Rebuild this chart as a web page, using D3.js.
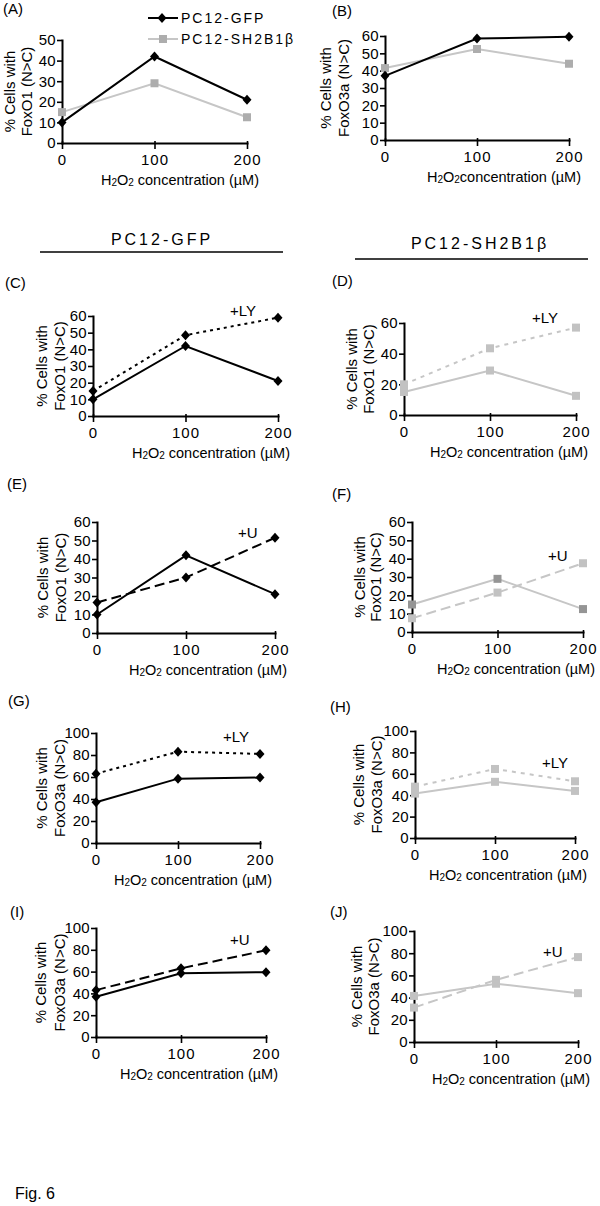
<!DOCTYPE html>
<html>
<head>
<meta charset="utf-8">
<script src="https://cdn.jsdelivr.net/npm/d3@7"></script>
<style>
body { margin: 0; background: #fff; }
text { font-family: "Liberation Sans", Arial, sans-serif; fill: #000; }
</style>
</head>
<body>
<svg width="600" height="1206"></svg>
<script>
// H2O2 doses (uM) on every x axis
const doses = [0, 100, 200];

// % cells with nuclear > cytoplasmic FoxO
const gfpFoxO1 = [10, 42, 21];
const shFoxO1 = [15, 29, 12.5];
const gfpFoxO3a = [37, 58.5, 59.5];
const shFoxO3a = [41.5, 52.5, 44];
const gfpFoxO1LY = [15, 48.5, 59];
const shFoxO1LY = [20, 43.5, 57];
const gfpFoxO1U = [16.5, 30, 51.5];
const shFoxO1U = [7.5, 21.5, 37.5];
const gfpFoxO3aLY = [63, 83, 81];
const shFoxO3aLY = [48, 64.5, 53];
const gfpFoxO3aU = [43, 63, 79.5];
const shFoxO3aU = [31, 56, 76.5];

// y tick labels
const ticks50 = [0, 10, 20, 30, 40, 50];
const ticks60 = [0, 10, 20, 30, 40, 50, 60];
const ticks60by20 = [0, 20, 40, 60];
const ticks100 = [0, 20, 40, 60, 80, 100];

const svg = d3.select('svg');

const grey = '#c6c6c6';
const greyMark = '#adadad';
const lightMark = '#c2c2c2';

const dotted = '3,4';
const dashed = '10,5';

const panels = [
  { name: '(A)', lab: [3, 14], x0: 62, x1: 247, yTop: 40, yBot: 143, yMax: 50, ticks: ticks50,
    ylab: 'FoxO1 (N>C)', yl: [-52, -35],
    series: [
      { v: shFoxO1, color: grey, fill: greyMark, mark: 'square' },
      { v: gfpFoxO1, color: '#000', fill: '#000', mark: 'diamond' }
    ] },
  { name: '(B)', lab: [332, 16], x0: 385, x1: 569, yTop: 36, yBot: 140, yMax: 60, ticks: ticks60,
    ylab: 'FoxO3a (N>C)', yl: [-59, -41], nospace: true,
    series: [
      { v: shFoxO3a, color: grey, fill: greyMark, mark: 'square' },
      { v: gfpFoxO3a, color: '#000', fill: '#000', mark: 'diamond' }
    ] },
  { name: '(C)', lab: [5, 288], x0: 93, x1: 278, yTop: 316, yBot: 416, yMax: 60, ticks: ticks60,
    ylab: 'FoxO1 (N>C)', yl: [-51, -33], note: ['+LY', 230, 316],
    series: [
      { v: gfpFoxO1LY, color: '#000', fill: '#000', mark: 'diamond', dash: dotted },
      { v: gfpFoxO1, color: '#000', fill: '#000', mark: 'diamond' }
    ] },
  { name: '(D)', lab: [332, 286], x0: 404, x1: 576, yTop: 323, yBot: 415, yMax: 60, ticks: ticks60by20,
    ylab: 'FoxO1 (N>C)', yl: [-52, -35], note: ['+LY', 532, 323],
    series: [
      { v: shFoxO1LY, color: grey, fill: lightMark, mark: 'square', dash: '4,5' },
      { v: shFoxO1, color: grey, fill: lightMark, mark: 'square' }
    ] },
  { name: '(E)', lab: [7, 489], x0: 97, x1: 275, yTop: 522, yBot: 633, yMax: 60, ticks: ticks60,
    ylab: 'FoxO1 (N>C)', yl: [-54, -36], note: ['+U', 238, 538],
    series: [
      { v: gfpFoxO1U, color: '#000', fill: '#000', mark: 'diamond', dash: dashed },
      { v: gfpFoxO1, color: '#000', fill: '#000', mark: 'diamond' }
    ] },
  { name: '(F)', lab: [332, 499], x0: 412, x1: 583, yTop: 522, yBot: 632, yMax: 60, ticks: ticks60,
    ylab: 'FoxO1 (N>C)', yl: [-52, -36], note: ['+U', 548, 561],
    series: [
      { v: shFoxO1U, color: grey, fill: lightMark, mark: 'square', dash: dashed },
      { v: shFoxO1, color: grey, fill: '#959595', mark: 'square' }
    ] },
  { name: '(G)', lab: [8, 706], x0: 96, x1: 260, yTop: 733, yBot: 843, yMax: 100, ticks: ticks100,
    ylab: 'FoxO3a (N>C)', yl: [-54, -36], note: ['+LY', 223, 742],
    series: [
      { v: gfpFoxO3aLY, color: '#000', fill: '#000', mark: 'diamond', dash: dotted },
      { v: gfpFoxO3a, color: '#000', fill: '#000', mark: 'diamond' }
    ] },
  { name: '(H)', lab: [330, 712], x0: 415, x1: 575, yTop: 731, yBot: 838, yMax: 100, ticks: ticks100,
    ylab: 'FoxO3a (N>C)', yl: [-56, -38], note: ['+LY', 542, 768],
    series: [
      { v: shFoxO3aLY, color: grey, fill: lightMark, mark: 'square', dash: '4,5' },
      { v: shFoxO3a, color: grey, fill: lightMark, mark: 'square' }
    ] },
  { name: '(I)', lab: [10, 917], x0: 96, x1: 266, yTop: 928, yBot: 1037, yMax: 100, ticks: ticks100,
    ylab: 'FoxO3a (N>C)', yl: [-55, -36], note: ['+U', 230, 945],
    series: [
      { v: gfpFoxO3aU, color: '#000', fill: '#000', mark: 'diamond', dash: dashed },
      { v: gfpFoxO3a, color: '#000', fill: '#000', mark: 'diamond' }
    ] },
  { name: '(J)', lab: [330, 917], x0: 414, x1: 578, yTop: 931, yBot: 1042, yMax: 100, ticks: ticks100,
    ylab: 'FoxO3a (N>C)', yl: [-57, -40], note: ['+U', 543, 957],
    series: [
      { v: shFoxO3aU, color: grey, fill: lightMark, mark: 'square', dash: dashed },
      { v: shFoxO3a, color: grey, fill: lightMark, mark: 'square' }
    ] }
];

const diamond = 'M0,-5L4.5,0L0,5L-4.5,0Z';

function drawMarks(g, data, s, x, y) {
  if (s.mark === 'diamond') {
    g.selectAll(null).data(data).join('path')
      .attr('d', diamond)
      .attr('fill', s.fill)
      .attr('transform', (d, i) => `translate(${x(doses[i])},${y(d)})`);
  } else {
    g.selectAll(null).data(data).join('rect')
      .attr('x', (d, i) => x(doses[i]) - 4)
      .attr('y', d => y(d) - 4)
      .attr('width', 8)
      .attr('height', 8)
      .attr('fill', s.fill);
  }
}

// H2O2 axis title with subscripts
function doseTitle(g, xEnd, yBase, nospace) {
  const t = g.append('text')
    .attr('x', xEnd)
    .attr('y', yBase)
    .attr('text-anchor', 'end')
    .attr('font-size', 14.5);
  t.append('tspan').text('H');
  t.append('tspan').attr('font-size', 10).attr('dy', 1).text('2');
  t.append('tspan').attr('dy', -1).text('O');
  t.append('tspan').attr('font-size', 10).attr('dy', 1).text('2');
  t.append('tspan').attr('dy', -1).text((nospace ? '' : ' ') + 'concentration (\u00b5M)');
}

function drawPanel(p) {
  const g = svg.append('g');
  const x = d3.scaleLinear().domain([0, 200]).range([p.x0, p.x1]);
  const y = d3.scaleLinear().domain([0, p.yMax]).range([p.yBot, p.yTop]);

  const xAxis = g.append('g')
    .attr('transform', `translate(0,${p.yBot})`)
    .call(d3.axisBottom(x).tickValues(doses).tickFormat(d3.format('d'))
      .tickSize(6).tickSizeOuter(0).tickPadding(5));
  xAxis.selectAll('.tick line').attr('y1', -2);
  xAxis.selectAll('.tick text').attr('letter-spacing', 1);

  const yAxis = g.append('g')
    .attr('transform', `translate(${p.x0},0)`)
    .call(d3.axisLeft(y).tickValues(p.ticks).tickSize(5).tickSizeOuter(0).tickPadding(1.5));

  [xAxis, yAxis].forEach(a => {
    a.attr('font-family', null).attr('font-size', null);
    a.select('.domain').attr('stroke', '#000').attr('stroke-width', 2).attr('stroke-linecap', 'square');
    a.selectAll('.tick line').attr('stroke', '#000').attr('stroke-width', 1.6);
    a.selectAll('.tick text').attr('font-size', 15).attr('fill', '#000');
  });

  const line = d3.line().x((d, i) => x(doses[i])).y(d => y(d));
  p.series.forEach(s => {
    g.append('path')
      .attr('d', line(s.v))
      .attr('fill', 'none')
      .attr('stroke', s.color)
      .attr('stroke-width', 2)
      .attr('stroke-dasharray', s.dash || null);
  });
  p.series.forEach(s => drawMarks(g, s.v, s, x, y));

  // y axis label, two lines
  const cy = (p.yTop + p.yBot) / 2;
  ['% Cells with', p.ylab].forEach((t, i) => {
    g.append('text')
      .attr('transform', `translate(${p.x0 + p.yl[i]},${cy}) rotate(-90)`)
      .attr('text-anchor', 'middle')
      .attr('dy', '0.35em')
      .attr('font-size', 15)
      .text(t);
  });

  doseTitle(g, p.x1 + 12, p.yBot + 42, p.nospace);

  g.append('text')
    .attr('x', p.lab[0])
    .attr('y', p.lab[1])
    .attr('font-size', 15)
    .text(p.name);

  if (p.note) {
    g.append('text')
      .attr('x', p.note[1])
      .attr('y', p.note[2])
      .attr('font-size', 15)
      .text(p.note[0]);
  }
}

panels.forEach(drawPanel);

// legend for (A)
const legend = svg.append('g');
const legendItems = [
  { label: 'PC12-GFP', color: '#000', fill: '#000', mark: 'diamond', y: 18 },
  { label: 'PC12-SH2B1\u03b2', color: grey, fill: greyMark, mark: 'square', y: 39 }
];
legendItems.forEach(l => {
  legend.append('line')
    .attr('x1', 148).attr('x2', 178)
    .attr('y1', l.y).attr('y2', l.y)
    .attr('stroke', l.color).attr('stroke-width', 2);
  if (l.mark === 'diamond') {
    legend.append('path').attr('d', diamond).attr('fill', l.fill)
      .attr('transform', `translate(162,${l.y})`);
  } else {
    legend.append('rect').attr('x', 159).attr('y', l.y - 4)
      .attr('width', 8).attr('height', 8).attr('fill', l.fill);
  }
  legend.append('text')
    .attr('x', 181).attr('y', l.y + 5)
    .attr('font-size', 14).attr('letter-spacing', 2)
    .text(l.label);
});

// column headers
const headers = [
  { label: 'PC12-GFP', cx: 162, base: 245, x1: 40, x2: 283, ly: 252 },
  { label: 'PC12-SH2B1\u03b2', cx: 480, base: 249, x1: 355, x2: 588, ly: 259 }
];
headers.forEach(h => {
  svg.append('text')
    .attr('x', h.cx).attr('y', h.base)
    .attr('text-anchor', 'middle')
    .attr('font-size', 16).attr('letter-spacing', 3)
    .text(h.label);
  svg.append('line')
    .attr('x1', h.x1).attr('x2', h.x2)
    .attr('y1', h.ly).attr('y2', h.ly)
    .attr('stroke', '#000').attr('stroke-width', 1.3);
});

svg.append('text')
  .attr('x', 15).attr('y', 1199)
  .attr('font-size', 16)
  .text('Fig. 6');
</script>
</body>
</html>
